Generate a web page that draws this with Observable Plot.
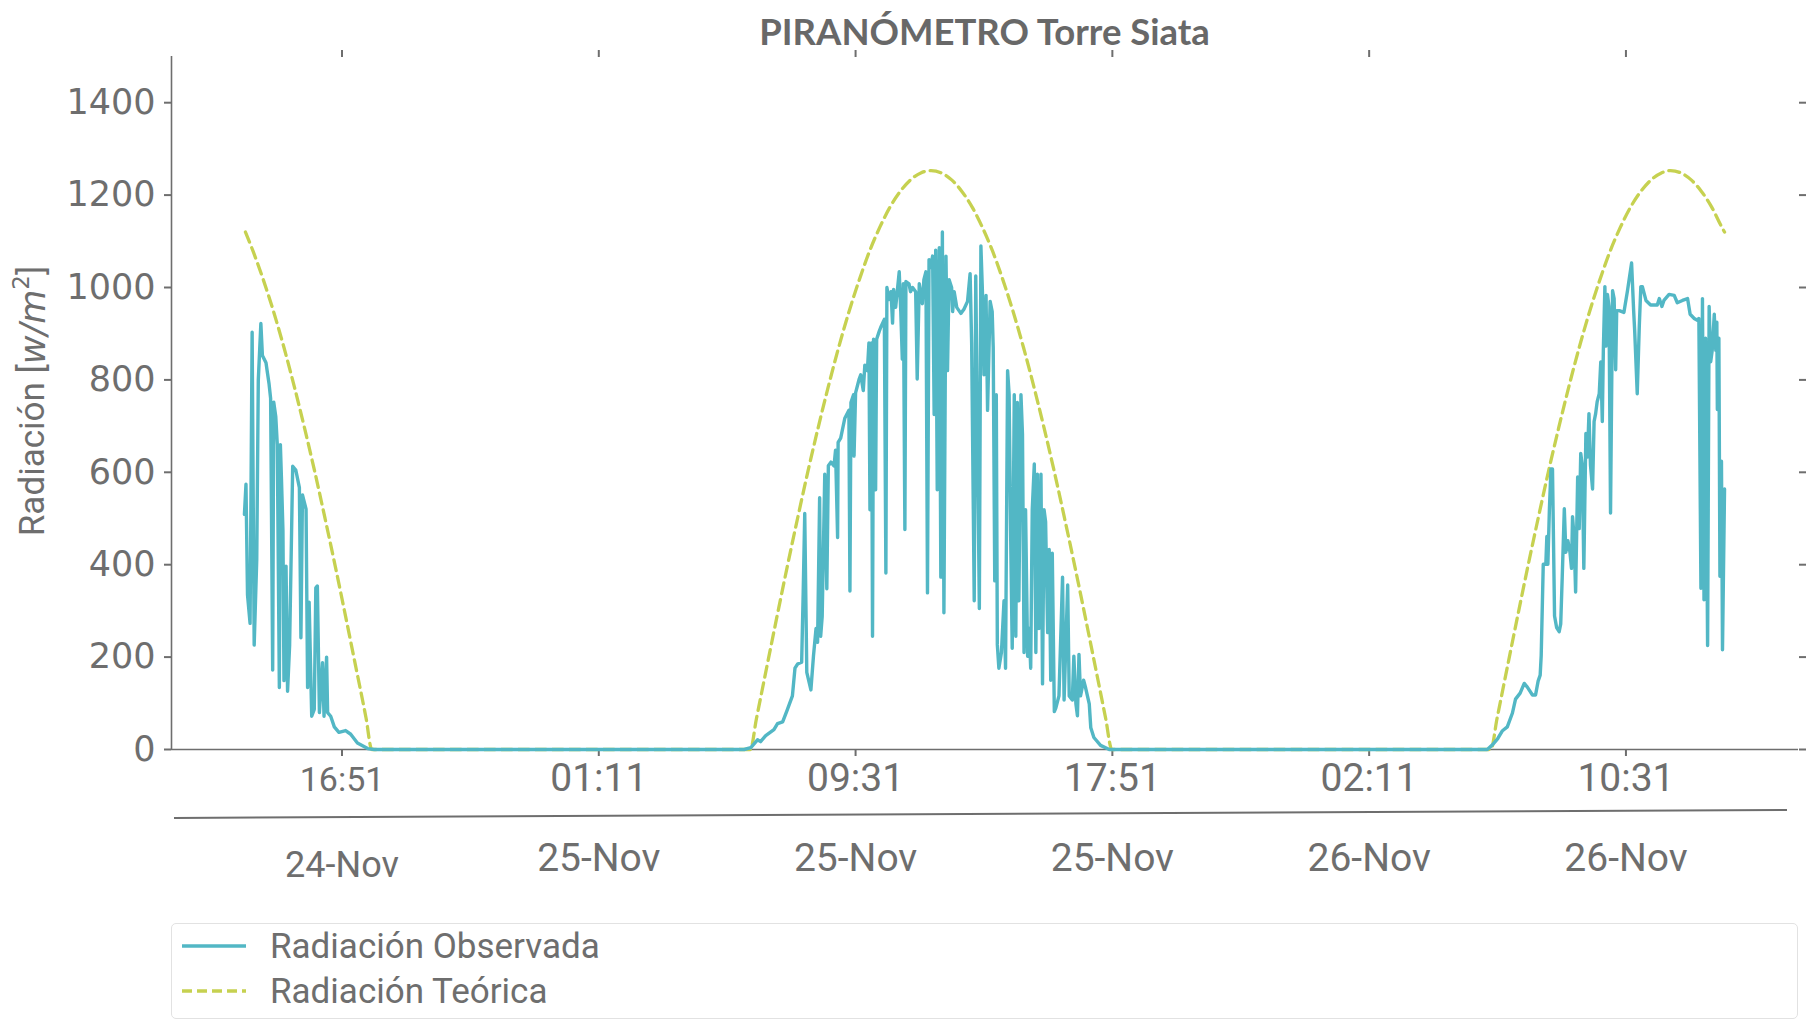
<!DOCTYPE html>
<html><head><meta charset="utf-8">
<script src="https://cdn.jsdelivr.net/npm/d3@7"></script>
<script src="https://cdn.jsdelivr.net/npm/@observablehq/plot@0.6"></script>
<style>
body{margin:0;background:#fff;}
#wrap{position:relative;width:1820px;height:1035px;color:#6e6e6e;overflow:hidden;}
#chart{position:absolute;left:0;top:0;}
#title{position:absolute;left:171px;width:1627px;top:11px;line-height:40px;text-align:center;font-family:Lato,sans-serif;font-weight:700;font-size:36.5px;color:#686868;}
#legend{position:absolute;left:171px;top:923px;width:1627px;height:96px;border:1.5px solid #e2e2e2;border-radius:5px;box-sizing:border-box;background:#fff;}
.item{position:absolute;left:10px;height:40px;display:flex;align-items:center;font-family:Roboto,sans-serif;font-size:35px;color:#6e6e6e;}
.item svg{margin-right:24px;}
</style></head>
<body>
<div id="wrap"><div id="chart"></div><div id="title">PIRANÓMETRO Torre Siata</div><div id="legend"></div></div>
<script>
// ---- data (minute of day, W/m2) ----
const obs24 = [[821,509],[824,574],[827,335],[832,273],[836,903],[840,226],[845,412],[848,799],[853,922],[856,853],[863,837],[866,814],[869,791],[872,760],[876,172],[878,752],[882,721],[885,660],[889,134],[891,660],[893,590],[896,474],[898,149],[902,397],[905,126],[909,226],[915,613],[921,605],[928,567],[931,242],[934,551],[941,520],[944,134],[947,319],[952,72],[957,87],[960,350],[963,354],[967,80],[973,188],[976,72],[981,200],[983,80],[989,72],[996,49],[1005,37],[1018,41],[1028,33],[1041,14],[1061,2],[1074,0]];
const obs25 = [[354,0],[367,4],[380,21],[386,17],[396,30],[412,43],[419,56],[429,60],[438,86],[448,116],[453,176],[458,185],[466,189],[469,339],[472,511],[476,167],[484,129],[489,202],[494,262],[497,232],[501,545],[503,245],[506,288],[511,596],[515,348],[518,614],[523,622],[529,614],[532,648],[536,459],[537,665],[542,674],[550,717],[558,734],[560,343],[562,751],[567,768],[568,635],[571,772],[578,802],[581,811],[586,777],[589,832],[594,820],[597,880],[599,519],[602,880],[604,245],[606,888],[610,562],[612,888],[617,905],[620,914],[627,931],[630,382],[632,1000],[636,974],[640,991],[643,923],[645,996],[649,957],[656,1034],[659,948],[662,845],[664,1008],[667,476],[669,1013],[675,1008],[678,991],[682,1000],[688,991],[691,802],[695,1008],[701,965],[704,1017],[708,1034],[711,339],[714,1060],[717,1043],[721,1068],[724,725],[727,1081],[730,562],[734,1086],[737,373],[740,1120],[743,296],[747,1068],[750,820],[753,1017],[758,1000],[760,948],[763,991],[768,957],[776,944],[782,953],[789,970],[794,1030],[797,880],[802,322],[805,1025],[808,717],[812,305],[815,1090],[818,991],[821,811],[825,983],[828,734],[833,970],[837,948],[839,871],[842,365],[845,768],[847,227],[850,176],[855,210],[860,322],[863,176],[867,820],[870,768],[873,459],[876,219],[880,768],[883,245],[886,751],[889,322],[893,768],[896,682],[899,210],[902,519],[906,202],[909,262],[912,176],[915,519],[919,618],[922,210],[925,596],[928,262],[932,596],[935,142],[938,519],[941,493],[945,253],[948,433],[951,150],[954,425],[958,82],[961,90],[967,116],[974,373],[977,107],[984,356],[987,116],[993,107],[996,202],[1000,99],[1003,73],[1006,206],[1009,116],[1015,150],[1019,133],[1026,99],[1029,47],[1035,26],[1048,9],[1065,0]];
const obs26 = [[361,0],[371,10],[381,23],[390,40],[400,49],[410,79],[416,109],[425,122],[433,143],[439,135],[449,118],[455,118],[460,148],[464,161],[466,203],[470,401],[475,401],[477,461],[479,401],[482,521],[485,607],[488,607],[492,289],[496,264],[501,255],[504,272],[507,375],[511,521],[514,427],[518,452],[522,427],[525,392],[527,504],[530,461],[533,341],[537,590],[540,478],[543,641],[546,615],[549,392],[553,684],[556,633],[559,727],[562,615],[566,564],[569,710],[572,727],[575,753],[579,770],[582,839],[585,710],[587,864],[590,1002],[592,873],[595,985],[598,959],[601,512],[605,993],[608,976],[611,822],[613,950],[618,950],[627,946],[634,993],[642,1053],[646,950],[648,907],[653,770],[657,916],[660,1002],[663,1002],[670,972],[679,962],[692,962],[696,976],[701,959],[705,972],[715,985],[725,983],[731,967],[741,972],[751,976],[756,942],[764,933],[770,929],[773,933],[777,349],[780,976],[783,324],[786,890],[790,225],[793,959],[796,839],[799,864],[803,942],[806,864],[808,925],[809,736],[812,890],[814,375],[817,624],[819,216],[823,564]];
const teo24 = [[823,1120],[838,1078],[858,1016],[878,947],[898,870],[918,786],[938,696],[958,601],[978,500],[998,396],[1018,288],[1038,178],[1058,67],[1069,0]];
const teo25 = [[366,0],[378,67],[398,178],[418,288],[438,396],[458,500],[478,601],[498,696],[518,786],[538,870],[558,947],[578,1016],[598,1078],[618,1130],[638,1174],[658,1208],[678,1233],[698,1248],[718,1253],[738,1248],[758,1233],[778,1208],[798,1174],[818,1130],[838,1078],[858,1016],[878,947],[898,870],[918,786],[938,696],[958,601],[978,500],[998,396],[1018,288],[1038,178],[1058,67],[1070,0]];
const teo26 = [[368,0],[380,67],[400,178],[420,288],[440,396],[460,500],[480,601],[500,696],[520,786],[540,870],[560,947],[580,1016],[600,1078],[620,1130],[640,1174],[660,1208],[680,1233],[700,1248],[718,1253],[738,1248],[758,1233],[778,1208],[798,1174],[818,1130],[823,1120]];
const tickHours = ["16:51","01:11","09:31","17:51","02:11","10:31"];
const tickDates = ["24-Nov","25-Nov","25-Nov","25-Nov","26-Nov","26-Nov"];
const yTicks = [0,200,400,600,800,1000,1200,1400];
const xLimits = ["2019-11-24T11:19Z","2019-11-26T16:07Z"];
const seriesNames = ["Radiación Observada","Radiación Teórica"];

// ---- build tables ----
const at = (day, min) => new Date(Date.UTC(2019, 10, day, 0, min));
const toRows = (day, arr) => arr.map(([m, v]) => ({t: at(day, m), v}));
const obs = [...toRows(24, obs24), ...toRows(25, obs25), ...toRows(26, obs26)];
const teo = [...toRows(24, teo24), ...toRows(25, teo25), ...toRows(26, teo26)];
const ticks = tickHours.map((h, i) => {
  const [hh, mm] = h.split(":").map(Number);
  return {t: at(+tickDates[i].split("-")[0], hh * 60 + mm), hour: h, date: tickDates[i]};
});
const tickT = ticks.map(d => d.t);
const xDomain = xLimits.map(s => new Date(s));

const C_OBS = "#52b7c5", C_TEO = "#c6d150", AX = "#6e6e6e";

const plot = Plot.plot({
  width: 1820, height: 900,
  marginLeft: 171, marginRight: 22, marginTop: 56, marginBottom: 151,
  style: {fontFamily: "DejaVu Sans", fontSize: "34px", color: AX, background: "#fff", overflow: "visible"},
  x: {type: "utc", domain: xDomain, axis: null},
  y: {domain: [0, 1500], axis: null},
  marks: [
    Plot.axisY({ticks: yTicks, tickSize: 7, tickPadding: 9, strokeWidth: 2, label: null, tickFormat: d => String(d), fontSize: 35, fontFamily: "DejaVu Sans"}),
    Plot.axisY({anchor: "right", ticks: yTicks, tickSize: 7, strokeWidth: 2, text: null, label: null}),
    Plot.axisX({anchor: "bottom", ticks: tickT, tickSize: 7, strokeWidth: 2, text: null, label: null}),
    Plot.axisX({anchor: "top", ticks: tickT, tickSize: 7, strokeWidth: 2, text: null, label: null}),
    Plot.ruleY([0], {stroke: AX, strokeWidth: 1.6}),
    Plot.ruleX([xDomain[0]], {stroke: AX, strokeWidth: 1.6}),
    Plot.line(teo, {x: "t", y: "v", stroke: C_TEO, strokeWidth: 3.3, strokeDasharray: "11,6", curve: "monotone-x"}),
    Plot.line(obs, {x: "t", y: "v", stroke: C_OBS, strokeWidth: 3.4, strokeLinejoin: "round"}),
    Plot.text(ticks, {x: "t", text: "hour", frameAnchor: "bottom", dy: 41, fontSize: 39, fontFamily: "Roboto", fill: AX, filter: (d, i) => i > 0}),
    Plot.text(ticks, {x: "t", text: "hour", frameAnchor: "bottom", dy: 41, fontSize: 34, fontFamily: "Roboto", fill: AX, filter: (d, i) => i === 0}),
    Plot.text(ticks, {x: "t", text: "date", frameAnchor: "bottom", dy: 121, fontSize: 39, fontFamily: "Roboto", fill: AX, filter: (d, i) => i > 0}),
    Plot.text(ticks, {x: "t", text: "date", frameAnchor: "bottom", dy: 127, fontSize: 36, fontFamily: "Roboto", fill: AX, filter: (d, i) => i === 0})
  ]
});
document.getElementById("chart").appendChild(plot);

// decorative separator between hour and date labels
const svg = d3.select(plot);
svg.append("line").attr("x1", 174).attr("y1", 818).attr("x2", 1787).attr("y2", 810)
  .attr("stroke", AX).attr("stroke-width", 2);

// y-axis title with math styling
const lab = svg.append("text")
  .attr("transform", "translate(35,401) rotate(-90)")
  .attr("text-anchor", "middle").attr("dominant-baseline", "middle")
  .attr("fill", AX).attr("font-family", "Roboto").attr("font-size", 35);
lab.append("tspan").text("Radiación [");
lab.append("tspan").attr("font-style", "italic").attr("font-family", "DejaVu Sans").text("w/m");
lab.append("tspan").attr("font-size", 23).attr("dy", -13).attr("font-family", "DejaVu Sans").text("2");
lab.append("tspan").attr("dy", 13).text("]");

// legend
const legend = document.getElementById("legend");
seriesNames.forEach((name, i) => {
  const item = document.createElement("div");
  item.className = "item";
  item.style.top = (i === 0 ? 2 : 47) + "px";
  const dash = i === 0 ? "" : 'stroke-dasharray="10,5"';
  item.innerHTML = `<svg width="64" height="10"><line x1="0" y1="5" x2="64" y2="5" stroke="${i === 0 ? C_OBS : C_TEO}" stroke-width="3.4" ${dash}/></svg><span>${name}</span>`;
  legend.appendChild(item);
});
</script>
</body></html>
